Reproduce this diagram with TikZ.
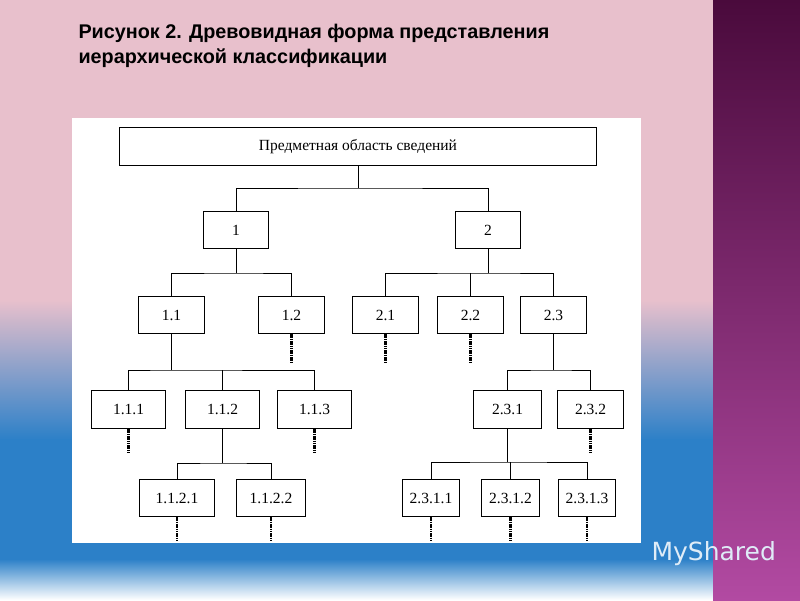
\documentclass[tikz,border=0pt]{standalone}
\usepackage{fontspec}
\setmainfont{Liberation Serif}
\newfontfamily\titlefont{Liberation Sans}
\newfontfamily\wmfont{DejaVu Sans}
\begin{document}
\begin{tikzpicture}[x=1pt,y=-1pt,
  bx/.style={draw,line width=1pt,fill=white,inner sep=0pt,anchor=north west,font=\fontsize{15.5}{17}\selectfont},
  ln/.style={line width=1pt},
  tail/.style={line width=2.6pt,dash pattern=on 1.6pt off 0.7pt}]
\useasboundingbox (0,0) rectangle (800,600);
\definecolor{pinkbg}{RGB}{232,192,204}
\definecolor{bluebg}{RGB}{44,128,200}
\definecolor{purtop}{RGB}{74,10,60}
\definecolor{purbot}{RGB}{178,74,162}
\fill[pinkbg] (0,0) rectangle (713,300);
\shade[top color=pinkbg,bottom color=bluebg] (0,300) rectangle (713,440);
\fill[bluebg] (0,439) rectangle (713,560);
\shade[top color=bluebg,bottom color=white] (0,559) rectangle (713,600);
\shade[top color=purtop,bottom color=purbot] (713,0) rectangle (800,600);
\node[anchor=north west,align=left,font=\titlefont\bfseries\fontsize{19.8}{25}\selectfont] (title) at (75,21)
 {Рисунок 2. Древовидная форма представления\\иерархической классификации};
\node[anchor=west,text=white!85!bluebg,font=\wmfont\fontsize{25}{27}\selectfont] (wm) at (648,554) {MyShared};
\fill[white] (72,118) rectangle (641,543);
% boxes
\node[bx,minimum width=477,minimum height=38] (r) at (119,127) {Предметная область сведений};
\node[bx,minimum width=65,minimum height=37] (n1) at (203,211) {1};
\node[bx,minimum width=65,minimum height=37] (n2) at (455,211) {2};
\foreach \n/\t/\x in {a/1.1/138,b/1.2/258,c/2.1/352,d/2.2/437,e/2.3/520}
  \node[bx,minimum width=66,minimum height=37] (\n) at (\x,296) {\t};
\foreach \n/\t/\x/\w in {f/1.1.1/91/74,g/1.1.2/185/74,h/1.1.3/277/74,i/2.3.1/473/68,j/2.3.2/557/66}
  \node[bx,minimum width=\w,minimum height=38] (\n) at (\x,390) {\t};
\foreach \n/\t/\x/\w in {k/1.1.2.1/139/75,l/1.1.2.2/236/69,m/2.3.1.1/402/57,o/2.3.1.2/481/58,p/2.3.1.3/558/57}
  \node[bx,minimum width=\w,minimum height=37] (\n) at (\x,479) {\t};
% connectors
\draw[ln] (r.south) -- ++(0,22) coordinate (b0);
\draw[ln] (n1.north) |- (b0) -| (n2.north);
\draw[ln] (n1.south) -- ++(0,24) coordinate (b1);
\draw[ln] (a.north) |- (b1) -| (b.north);
\draw[ln] (n2.south) -- ++(0,24) coordinate (b2);
\draw[ln] (c.north) |- (b2) -| (e.north);
\draw[ln] (d.north) -- (d.north |- b2);
\draw[ln] (a.south) -- ++(0,36) coordinate (b3);
\draw[ln] (f.north) |- (b3) -| (h.north);
\draw[ln] (g.north) -- (g.north |- b3);
\draw[ln] (e.south) -- ++(0,36) coordinate (b4);
\draw[ln] (i.north) |- (b4) -| (j.north);
\draw[ln] (g.south) -- ++(0,34) coordinate (b5);
\draw[ln] (k.north) |- (b5) -| (l.north);
\draw[ln] (i.south) -- ++(0,33) coordinate (b6);
\draw[ln] (m.north) |- (b6) -| (p.north);
\draw[ln] (o.north) -- (o.north |- b6);
% tails
\foreach \n in {b,c,d} \draw[tail] (\n.south) -- ++(0,29);
\foreach \n in {f,h,j} \draw[tail] (\n.south) -- ++(0,24);
\foreach \n in {k,l,m,o,p} \draw[tail] (\n.south) -- ++(0,24);
\end{tikzpicture}
\end{document}
